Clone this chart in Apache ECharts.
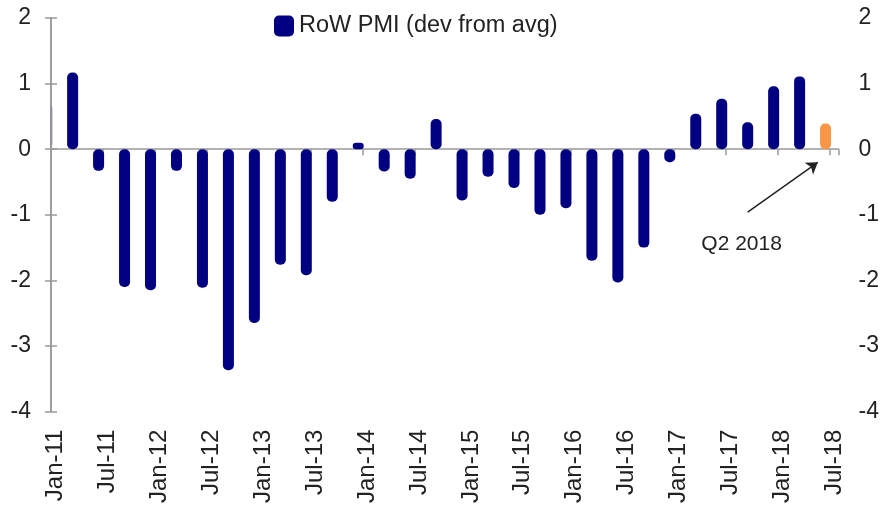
<!DOCTYPE html>
<html>
<head>
<meta charset="utf-8">
<script src="https://cdn.jsdelivr.net/npm/echarts@6/dist/echarts.min.js"></script>
<style>
  html, body { margin: 0; padding: 0; background: #fff; }
  #chart { width: 882px; height: 506px; }
</style>
</head>
<body>
<div id="chart"></div>
<script>
// quarterly readings, one per quarter-end month
var quarters = ['Dec-10','Mar-11','Jun-11','Sep-11','Dec-11','Mar-12','Jun-12','Sep-12','Dec-12',
  'Mar-13','Jun-13','Sep-13','Dec-13','Mar-14','Jun-14','Sep-14','Dec-14','Mar-15','Jun-15','Sep-15',
  'Dec-15','Mar-16','Jun-16','Sep-16','Dec-16','Mar-17','Jun-17','Sep-17','Dec-17','Mar-18','Jun-18'];
var pmiDev = [0.7, 1.17, -0.33, -2.1, -2.15, -0.33, -2.11, -3.37, -2.65,
  -1.76, -1.92, -0.8, 0.1, -0.34, -0.45, 0.46, -0.78, -0.42, -0.59, -1.0,
  -0.9, -1.7, -2.03, -1.5, -0.2, 0.54, 0.77, 0.41, 0.96, 1.11, 0.39];
var xTickLabels = ['Jan-11','Jul-11','Jan-12','Jul-12','Jan-13','Jul-13','Jan-14','Jul-14',
  'Jan-15','Jul-15','Jan-16','Jul-16','Jan-17','Jul-17','Jan-18','Jul-18'];
var yTicks = [-4, -3, -2, -1, 0, 1, 2];
var lastQuarter = 'Jun-18';

var monNames = ['Jan','Feb','Mar','Apr','May','Jun','Jul','Aug','Sep','Oct','Nov','Dec'];
// months since Jan-11, bar centred inside its month
function monthPos(lbl) {
  var p = lbl.split('-');
  return (parseInt(p[1], 10) - 11) * 12 + monNames.indexOf(p[0]) + 0.5;
}

var navy = '#000080', orange = '#F79646';
var barData = [];
for (var i = 0; i < quarters.length; i++) {
  var item = { value: [monthPos(quarters[i]), pmiDev[i]] };
  if (quarters[i] == lastQuarter) item.itemStyle = { color: orange };
  barData.push(item);
}

var txt = '#222';
var axisGray = '#999';
var fnt = 'Liberation Sans, Arial, sans-serif';

var myChart = echarts.init(document.getElementById('chart'));
var option = {
  animation: false,
  textStyle: { fontFamily: fnt },
  grid: { left: 51, right: 42, top: 18, bottom: 93, containLabel: false },
  legend: {
    data: ['RoW PMI (dev from avg)'],
    left: 269, top: 9,
    icon: 'roundRect', itemWidth: 20, itemHeight: 21,
    itemStyle: { borderWidth: 0 },
    textStyle: { fontSize: 23.5, color: txt, fontFamily: fnt },
    selectedMode: false
  },
  xAxis: [{
    type: 'value', min: 0, max: 91, interval: 6,
    axisLine: { onZero: true, lineStyle: { color: axisGray, width: 1.5 } },
    axisTick: { show: true, length: 6, lineStyle: { color: axisGray, width: 1.5 } },
    axisLabel: { show: false },
    splitLine: { show: false }
  }, {
    type: 'value', min: 0, max: 91, interval: 6, position: 'bottom',
    axisLine: { show: false, onZero: false },
    axisTick: { show: false },
    splitLine: { show: false },
    axisLabel: {
      rotate: 90, margin: 18, fontSize: 24, color: txt, fontFamily: fnt,
      verticalAlign: 'top', lineHeight: 9,
      formatter: function (v) { return v % 6 === 0 ? xTickLabels[v / 6] : ''; }
    }
  }],
  yAxis: [{
    type: 'value', min: yTicks[0], max: yTicks[yTicks.length - 1], interval: 1, position: 'left', z: 10,
    axisLine: { show: true, lineStyle: { color: axisGray, width: 1.5 } },
    axisTick: { show: true, length: 6, lineStyle: { color: axisGray, width: 1.5 } },
    axisLabel: { margin: 20, fontSize: 23, color: txt, fontFamily: fnt },
    splitLine: { show: false }
  }, {
    type: 'value', min: yTicks[0], max: yTicks[yTicks.length - 1], interval: 1, position: 'right', z: 10,
    axisLine: { show: true, lineStyle: { color: axisGray, width: 1.5 } },
    axisTick: { show: true, length: 6, lineStyle: { color: axisGray, width: 1.5 } },
    axisLabel: { margin: 20, fontSize: 23, color: txt, fontFamily: fnt },
    splitLine: { show: false }
  }],
  series: [{
    name: 'RoW PMI (dev from avg)',
    type: 'bar',
    xAxisIndex: 0, yAxisIndex: 0,
    barWidth: 11,
    itemStyle: { color: navy, borderRadius: 5 },
    emphasis: { disabled: true },
    data: barData,
    markLine: {
      silent: true,
      symbol: ['none', 'arrow'], symbolSize: 11,
      label: { show: false },
      lineStyle: { color: txt, width: 1.5, type: 'solid' },
      data: [[{ coord: [80.5, -0.96] }, { coord: [88.6, -0.2] }]]
    },
    markPoint: {
      silent: true,
      symbol: 'circle', symbolSize: 0,
      label: { show: true, position: 'inside', formatter: 'Q2 2018', fontSize: 21, color: txt, fontFamily: fnt },
      data: [{ coord: [79.8, -1.45] }]
    }
  }]
};
myChart.setOption(option);

// bars on a value axis are not clipped at the left edge, so hide whatever spills past the axis
var x0 = myChart.convertToPixel({ xAxisIndex: 0 }, 0);
var yTop = myChart.convertToPixel({ yAxisIndex: 0 }, yTicks[yTicks.length - 1]);
var yBot = myChart.convertToPixel({ yAxisIndex: 0 }, yTicks[0]);
myChart.setOption({
  graphic: [{
    type: 'rect', silent: true, z: 5,
    shape: { x: x0 - 14, y: yTop, width: 13.3, height: yBot - yTop },
    style: { fill: '#fff' }
  }]
});
</script>
</body>
</html>
